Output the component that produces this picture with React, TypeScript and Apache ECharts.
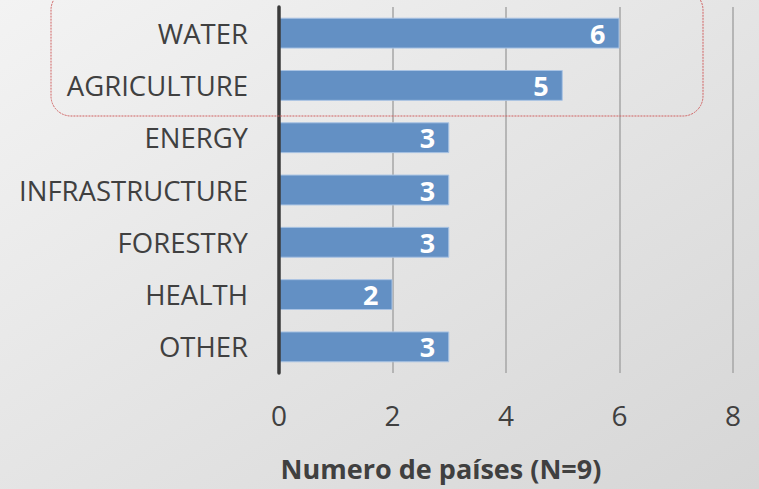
import React, { useEffect, useRef } from "react";
import * as echarts from "echarts";

const categories = ["WATER", "AGRICULTURE", "ENERGY", "INFRASTRUCTURE", "FORESTRY", "HEALTH", "OTHER"];
const values = [6, 5, 3, 3, 3, 2, 3];
const axisTitle = "Numero de países (N=9)";

export default function App() {
  const ref = useRef<HTMLDivElement>(null);
  useEffect(() => {
    document.body.style.margin = "0";
    if (!ref.current) return;
    const chart = echarts.init(ref.current, null, { renderer: "svg" });
    const font = "'Open Sans', sans-serif";
    chart.setOption({
      animation: false,
      backgroundColor: new echarts.graphic.LinearGradient(0, 0, 1, 1, [
        { offset: 0, color: "#f3f3f3" },
        { offset: 1, color: "#d6d6d6" },
      ]),
      grid: { left: 279, right: 26, top: 7, bottom: 116, containLabel: false },
      xAxis: {
        type: "value",
        min: 0,
        max: 8,
        interval: 2,
        axisLine: { show: false },
        axisTick: { show: false },
        splitLine: { show: true, lineStyle: { color: "#a6a6a6", width: 1.5 } },
        axisLabel: { color: "#404040", fontSize: 28, fontFamily: font, margin: 28 },
      },
      yAxis: {
        type: "category",
        data: categories,
        inverse: true,
        z: 5,
        axisLine: { show: true, lineStyle: { color: "#3a3a3a", width: 3.5 } },
        axisTick: { show: false },
        axisLabel: { color: "#404040", fontSize: 27.5, fontFamily: font, margin: 31 },
      },
      series: [
        {
          type: "bar",
          data: values,
          barCategoryGap: "41%",
          itemStyle: { color: "#6390c4", borderColor: "#a9c3e3", borderWidth: 1 },
          label: {
            show: true,
            position: "insideRight",
            distance: 14,
            color: "#ffffff",
            fontWeight: "bold",
            fontSize: 27,
            fontFamily: font,
          },
        },
      ],
      graphic: [
        {
          type: "rect",
          shape: { x: 51, y: -10, width: 652, height: 126, r: 20 },
          style: { fill: "none", stroke: "#d06060", lineWidth: 1, lineDash: [2, 1] },
          silent: true,
          z: 10,
        },
        {
          type: "text",
          x: 441,
          y: 468,
          style: {
            text: axisTitle,
            fill: "#404040",
            font: "bold 27px 'Open Sans', sans-serif",
            textAlign: "center",
            textVerticalAlign: "middle",
          },
        },
      ],
    });
    return () => chart.dispose();
  }, []);
  return <div ref={ref} style={{ width: 759, height: 489 }} />;
}
